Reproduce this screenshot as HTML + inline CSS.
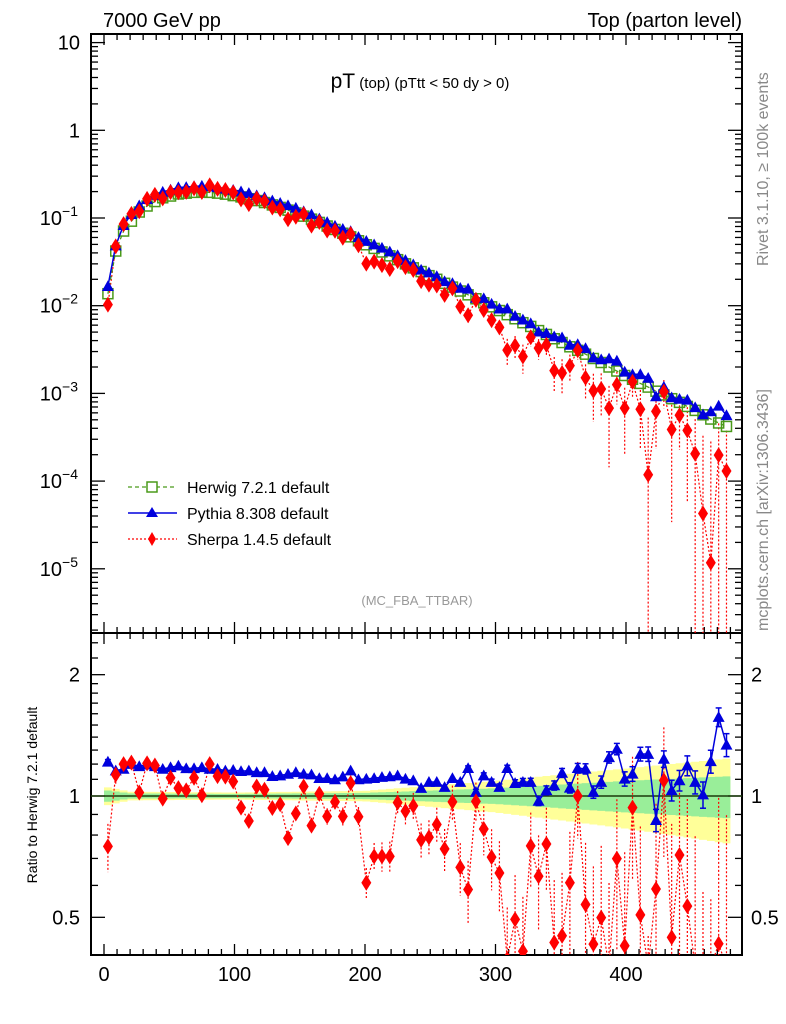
<!DOCTYPE html>
<html><head><meta charset="utf-8"><style>
html,body{margin:0;padding:0;background:#fff;width:786px;height:1024px;overflow:hidden}
svg{display:block;font-family:"Liberation Sans",sans-serif}
</style></head><body>
<svg id="c" width="786" height="1024" viewBox="0 0 786 1024" xmlns="http://www.w3.org/2000/svg">
<defs>
<clipPath id="cm"><rect x="91" y="34" width="651" height="599"/></clipPath>
<clipPath id="cr"><rect x="91" y="633" width="651" height="322"/></clipPath>
</defs>
<text x="103" y="27" font-size="20">7000 GeV pp</text>
<text x="742" y="27" font-size="20" text-anchor="end">Top (parton level)</text>
<text x="420" y="88" text-anchor="middle"><tspan font-size="21">pT</tspan><tspan font-size="15"> (top)  (pTtt &lt; 50 dy &gt; 0)</tspan></text>
<text x="417" y="605" font-size="13" fill="#999" text-anchor="middle">(MC_FBA_TTBAR)</text>
<text transform="translate(768,266) rotate(-90)" font-size="16" fill="#888">Rivet 3.1.10, ≥ 100k events</text>
<text transform="translate(768,631) rotate(-90)" font-size="16" fill="#888">mcplots.cern.ch [arXiv:1306.3436]</text>
<text transform="translate(37,795) rotate(-90)" font-size="14" text-anchor="middle">Ratio to Herwig 7.2.1 default</text>
<g id="band" clip-path="url(#cr)"></g>
<g id="axes"></g>
<g id="main" clip-path="url(#cm)"></g>
<g id="ratio" clip-path="url(#cr)"></g>
<g id="legend">
<line x1="128" y1="487" x2="177" y2="487" stroke="#4a9a1a" stroke-width="1.3" stroke-dasharray="4,3"/>
<rect x="147" y="482" width="10" height="10" fill="#fff" stroke="#4a9a1a" stroke-width="1.5"/>
<text x="187" y="493" font-size="16">Herwig 7.2.1 default</text>
<line x1="128" y1="513" x2="177" y2="513" stroke="#0000dd" stroke-width="1.5"/>
<polygon points="152,507 158,517 146,517" fill="#0000dd"/>
<text x="187" y="519" font-size="16">Pythia 8.308 default</text>
<line x1="128" y1="539" x2="177" y2="539" stroke="#f00" stroke-width="1.3" stroke-dasharray="2,2"/>
<polygon points="152,532 156,539 152,546 148,539" fill="#f00"/>
<text x="187" y="545" font-size="16">Sherpa 1.4.5 default</text>
</g>
</svg>
<script>
const binCenters=[3,9,15,21,27,33,39,45,51,57,63,69,75,81,87,93,99,105,111,117,123,129,135,141,147,153,159,165,171,177,183,189,195,201,207,213,219,225,231,237,243,249,255,261,267,273,279,285,291,297,303,309,315,321,327,333,339,345,351,357,363,369,375,381,387,393,399,405,411,417,423,429,435,441,447,453,459,465,471,477];
const herwig=[0.0137,0.042,0.071,0.092,0.117,0.137,0.154,0.17,0.178,0.188,0.192,0.196,0.197,0.196,0.192,0.187,0.18,0.174,0.166,0.158,0.15,0.141,0.132,0.123,0.114,0.105,0.097,0.089,0.081,0.074,0.067,0.061,0.055,0.0495,0.045,0.041,0.037,0.0335,0.030,0.027,0.0245,0.022,0.020,0.018,0.0163,0.0147,0.0133,0.012,0.0108,0.0097,0.0088,0.0079,0.0071,0.0064,0.0058,0.0052,0.0047,0.0042,0.0038,0.0034,0.0031,0.0028,0.0025,0.00225,0.002,0.0018,0.0016,0.00145,0.0013,0.00118,0.00106,0.00096,0.00087,0.00079,0.00071,0.00064,0.00057,0.00051,0.00046,0.00042];
const pythiaRatio=[1.216,1.156,1.167,1.20,1.185,1.196,1.185,1.167,1.178,1.189,1.171,1.171,1.178,1.167,1.167,1.156,1.16,1.152,1.156,1.145,1.145,1.12,1.124,1.134,1.145,1.134,1.13,1.107,1.107,1.099,1.117,1.156,1.099,
1.103,1.107,1.114,1.118,1.124,1.103,1.093,1.046,1.083,1.083,1.052,1.107,1.083,1.172,1.023,1.124,1.083,1.052,1.172,1.076,1.083,1.083,0.972,1.033,1.062,1.141,1.048,1.172,1.168,1.023,1.083,1.247,1.308,1.103,1.135,1.271,1.271,0.871,1.236,1.033,1.093,1.19,1.083,1.008,1.219,1.57,1.34];
const sherpaRatio=[0.75,1.13,1.20,1.21,1.02,1.205,1.19,0.985,1.11,1.046,1.033,1.11,1.004,1.20,1.12,1.117,1.086,0.936,0.867,1.056,1.036,0.934,0.954,0.786,0.905,1.056,0.844,1.013,0.89,0.967,0.89,1.076,0.888,
0.609,0.708,0.708,0.708,0.963,0.917,0.945,0.778,0.79,0.85,0.739,0.967,0.665,0.586,0.97,0.828,0.705,0.644,0.394,0.494,0.412,0.752,0.632,0.76,0.433,0.45,0.609,1.0,0.538,0.429,0.499,0.34,0.699,0.425,0.936,0.507,0.1,0.588,1.093,0.446,0.714,0.533,0.32,0.075,0.023,0.43,0.31];
const xTicks=[0,100,200,300,400];
const bandKnotX=[0,20,100,200,300,400,480];
const greenRel=[0.035,0.015,0.012,0.018,0.045,0.09,0.12];
const yellowRel=[0.055,0.025,0.02,0.03,0.09,0.17,0.24];

const NS="http://www.w3.org/2000/svg";
function mk(tag,attrs,parent){const e=document.createElementNS(NS,tag);for(const k in attrs)e.setAttribute(k,attrs[k]);parent.appendChild(e);return e;}
const L=91,Rt=742,T=34,M=633,B=955;
const X=v=>104+1.305*v;
const Y=v=>Math.min(130.3-87.7*Math.log10(v),M+12);
const R=r=>Math.max(Math.min(796-403*Math.log10(r),B+12),M-12);
const axes=document.getElementById('axes');
const main=document.getElementById('main');
const ratio=document.getElementById('ratio');
const band=document.getElementById('band');

let f1=mk('rect',{x:L,y:T,width:Rt-L,height:M-T,fill:'none',stroke:'#000','stroke-width':2},axes);


let f2=mk('rect',{x:L,y:M,width:Rt-L,height:B-M,fill:'none',stroke:'#000','stroke-width':2},axes);


for(let v=-10;v<=490;v+=10){
  const x=X(v); if(x<L||x>Rt)continue;
  const maj=v%100===0, len=maj?11:6;
  [[T,1],[M,-1],[M,1],[B,-1]].forEach(([y,d])=>mk('line',{x1:x,x2:x,y1:y,y2:y+d*len,stroke:'#000','stroke-width':1.3},axes));
}
xTicks.forEach(v=>{const t=mk('text',{x:X(v),y:981,'font-size':20,'text-anchor':'middle'},axes);t.textContent=v;

});
for(let e=-6;e<=1;e++){for(let m=1;m<=9;m++){const v=m*Math.pow(10,e);const y=130.3-87.7*Math.log10(v);if(y<T||y>M)continue;const len=m===1?14:7;
 mk('line',{x1:L,x2:L+len,y1:y,y2:y,stroke:'#000','stroke-width':1.3},axes);mk('line',{x1:Rt,x2:Rt-len,y1:y,y2:y,stroke:'#000','stroke-width':1.3},axes);
 if(m===1){const t=mk('text',{x:e<0?78:80,y:y+7,'font-size':20,'text-anchor':'end'},axes);
  
  
  if(e===0)t.textContent='1';else if(e===1)t.textContent='10';else{t.textContent='10';const s=mk('tspan',{dy:-9,'font-size':14},t);s.textContent='−'+(-e);}}
}}
const rMinor=[0.4,0.6,0.7,0.8,0.9,1.1,1.2,1.3,1.4,1.5,1.6,1.7,1.8,1.9,2.2,2.4];
rMinor.forEach(r=>{const y=R(r);if(y<M||y>B)return;mk('line',{x1:L,x2:L+7,y1:y,y2:y,stroke:'#000','stroke-width':1.3},axes);mk('line',{x1:Rt,x2:Rt-7,y1:y,y2:y,stroke:'#000','stroke-width':1.3},axes);});
[0.5,1,2].forEach(r=>{const y=R(r);mk('line',{x1:L,x2:L+14,y1:y,y2:y,stroke:'#000','stroke-width':1.3},axes);mk('line',{x1:Rt,x2:Rt-14,y1:y,y2:y,stroke:'#000','stroke-width':1.3},axes);
 const t=mk('text',{x:80,y:y+7,'font-size':20,'text-anchor':'end'},axes);t.textContent=r;
 
 
 const t2=mk('text',{x:751,y:y+7,'font-size':20},axes);t2.textContent=r;
 
 });

function knot(arr,v){for(let i=0;i<bandKnotX.length-1;i++){if(v<=bandKnotX[i+1]){const t=(v-bandKnotX[i])/(bandKnotX[i+1]-bandKnotX[i]);return arr[i]+t*(arr[i+1]-arr[i]);}}return arr[arr.length-1];}
function bandPoly(arr,color,name){let up=[],dn=[];binCenters.forEach(c=>{const h=knot(arr,c);up.push(X(c-3)+','+R(1+h),X(c+3)+','+R(1+h));dn.unshift(X(c+3)+','+R(1-h),X(c-3)+','+R(1-h));});
 const p=mk('polygon',{points:up.concat(dn).join(' '),fill:color},band);
 
 }
bandPoly(yellowRel,'#ffff99','herwig-band-yellow');
bandPoly(greenRel,'#99ee99','herwig-band-green');
let one=mk('line',{x1:L,x2:Rt,y1:R(1),y2:R(1),stroke:'#1a3a0a','stroke-width':1.5},ratio);



function tri(g,x,y,s){return mk('polygon',{points:`${x},${y-s} ${x+s},${y+s*0.8} ${x-s},${y+s*0.8}`,fill:'#0000dd'},g);}
function dia(g,x,y){return mk('polygon',{points:`${x},${y-8} ${x+5},${y} ${x},${y+8} ${x-5},${y}`,fill:'#f00'},g);}

const hv=herwig, pv=herwig.map((h,i)=>h*pythiaRatio[i]), sv=herwig.map((h,i)=>h*sherpaRatio[i]);
let sp=mk('polyline',{points:binCenters.map((c,i)=>X(c)+','+Y(sv[i])).join(' '),fill:'none',stroke:'#f00','stroke-width':1.2,'stroke-dasharray':'2,2'},main);


binCenters.forEach((c,i)=>{const e=0.012/Math.sqrt(hv[i])*hv[i];const lo=Math.max(sv[i]-e,1e-7);
 mk('line',{x1:X(c),x2:X(c),y1:Y(sv[i]+e),y2:Y(lo),stroke:'#f00','stroke-width':1.2,'stroke-dasharray':'2,2'},main);});
let hp=mk('polyline',{points:binCenters.map((c,i)=>X(c)+','+Y(hv[i])).join(' '),fill:'none',stroke:'#4a9a1a','stroke-width':1.3,'stroke-dasharray':'4,3'},main);


binCenters.forEach((c,i)=>{const r=mk('rect',{x:X(c)-5,y:Y(hv[i])-5,width:10,height:10,fill:'none',stroke:'#4a9a1a','stroke-width':1.5},main);
 
 });
let pp=mk('polyline',{points:binCenters.map((c,i)=>X(c)+','+Y(pv[i])).join(' '),fill:'none',stroke:'#0000dd','stroke-width':1.5},main);


binCenters.forEach((c,i)=>{const t=tri(main,X(c),Y(pv[i]),6);
 
 });
binCenters.forEach((c,i)=>{const d=dia(main,X(c),Y(sv[i]));
 
 });

let srl=mk('polyline',{points:binCenters.map((c,i)=>X(c)+','+R(sherpaRatio[i])).join(' '),fill:'none',stroke:'#f00','stroke-width':1.2,'stroke-dasharray':'2,2'},ratio);


binCenters.forEach((c,i)=>{const e=0.012/Math.sqrt(hv[i]);const r=sherpaRatio[i];
 mk('line',{x1:X(c),x2:X(c),y1:R(r+e),y2:R(Math.max(r-e,0.01)),stroke:'#f00','stroke-width':1.2,'stroke-dasharray':'2,2'},ratio);});
let prl=mk('polyline',{points:binCenters.map((c,i)=>X(c)+','+R(pythiaRatio[i])).join(' '),fill:'none',stroke:'#0000dd','stroke-width':1.5},ratio);


binCenters.forEach((c,i)=>{const e=0.0018/Math.sqrt(hv[i]);const r=pythiaRatio[i];
 if(e>0.015){mk('line',{x1:X(c),x2:X(c),y1:R(r+e),y2:R(r-e),stroke:'#0000dd','stroke-width':1.5},ratio);
 mk('line',{x1:X(c)-3,x2:X(c)+3,y1:R(r+e),y2:R(r+e),stroke:'#0000dd','stroke-width':1.5},ratio);
 mk('line',{x1:X(c)-3,x2:X(c)+3,y1:R(r-e),y2:R(r-e),stroke:'#0000dd','stroke-width':1.5},ratio);}
 const t=tri(ratio,X(c),R(r),6);
 
 });
binCenters.forEach((c,i)=>{const d=dia(ratio,X(c),R(sherpaRatio[i]));
 
 });
</script>
</body></html>
